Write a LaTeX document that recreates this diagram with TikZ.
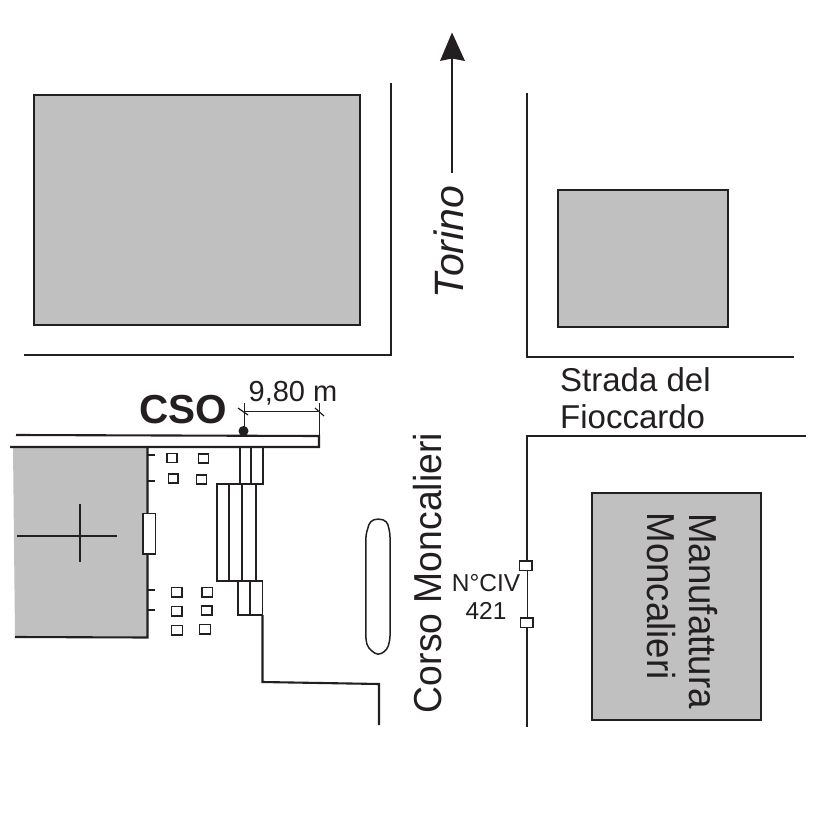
\documentclass[tikz,border=0pt]{standalone}
\usepackage{fontspec}
\setmainfont{Liberation Sans}
\definecolor{bldg}{RGB}{192,192,192}
\definecolor{ink}{RGB}{35,31,32}
\tikzset{
  x=1pt,y=-1pt,
  road/.style={draw=ink,line width=2.1pt,line join=miter},
  thin line/.style={draw=ink,line width=1.6pt},
  hair/.style={draw=ink,line width=.8pt},
  building/.style={draw=ink,fill=bldg,line width=1.8pt},
  kiosk/.style={draw=ink,fill=white,line width=1.6pt},
  label/.style={text=ink,inner sep=0pt,anchor=center},
}
\newcommand{\lbl}[2]{\fontsize{#1}{#2}\selectfont}
\begin{document}
\begin{tikzpicture}
\useasboundingbox (0,0) rectangle (826,826);
\fill[white] (0,0) rectangle (826,826);
% buildings
\path[building] (34,95) rectangle (360,325);
\path[building] (558,190) rectangle (728,327);
\path[building] (592,493) rectangle (761,720);
\fill[bldg] (13,447) -- (148,447) -- (148,637) -- (15,637) -- cycle;
\draw[road] (10,447) -- (147.5,447) -- (147.5,637.5) -- (15,637);
% cross
\draw[thin line] (17,536) -- (117,536);
\draw[thin line] (80,504) -- (80,562);
% streets
\draw[road] (24,355) -- (391,355) -- (391,83);
\draw[road] (527,93) -- (527,357) -- (794,357);
\draw[road] (806,436) -- (527,436) -- (527,563);
\draw[road] (527,628) -- (527,727);
\draw[hair] (527,563) -- (527,628);
% sidewalk
\draw[road] (16,435) -- (319,436) -- (319,447) -- (148,447);
% side door
\path[kiosk] (143,513.5) rectangle (155.5,554);
% ticks
\foreach \y in {455,481,590,610}
  \draw[thin line] (147,\y) -- (155,\y);
% small squares
\foreach \xa/\ya/\xb/\yb in {167/453.5/177/462.5,198.5/454/208.5/463,168.5/474/178/483,196.5/475/206.5/484,171.5/587.5/182/597,202/587.5/212.5/597,171.5/606.5/182/616,201.5/606/212/615,171.5/625.5/182.5/635,199.5/624.5/210.5/634}
  \path[kiosk] (\xa,\ya) rectangle (\xb,\yb);
% steps
\foreach \xa/\ya/\xb/\yb in {240/447/251/484,251/447/263/484,217/484/229/581,229/484/242/581,242/484/256/581,238/581/250/615,250/581/262.5/615}
  \draw[road,line width=1.9pt] (\xa,\ya) rectangle (\xb,\yb);
% kerb
\draw[road] (262.5,615) -- (262.5,682) -- (379,684) -- (379,725);
% traffic island
\draw[road,line width=1.5pt,rounded corners=4pt] (378,518.5) -- (370,521) -- (365.8,535) -- (365.8,640)
  -- (368,648) -- (378,655.5) -- (387,650) -- (390,640) -- (390,533) -- (387,521) -- cycle;
% civic number marks
\path[kiosk] (519.5,561) rectangle (532,570.5);
\path[kiosk] (520.5,618) rectangle (533,627.5);
% dimension
\fill[ink] (243.5,431) circle (5);
\draw[hair] (244.5,428) -- (244.5,403);
\draw[hair] (244.5,411.5) -- (319,411.5);
\draw[hair] (319,436) -- (319,403);
\draw[thin line,line width=1.2pt] (238,408) -- (248,415);
\draw[thin line,line width=1.2pt] (315,408) -- (324,416);
% arrow
\draw[draw=ink,line width=2pt] (452,173) -- (452,58);
\fill[ink] (452,32.5) -- (465,61) -- (452,58.5) -- (440,61) -- cycle;
% labels
\node[label,font=\lbl{40.5}{40}\bfseries] (cso) at (183.5,410) {CSO};
\node[label,font=\lbl{29}{29}] (dist) at (293,393) {9,80 m};
\node[label,font=\lbl{41}{40}\itshape,rotate=90] (tor) at (449,242) {Torino};
\node[label,font=\lbl{33}{33},anchor=west] (s1) at (560,380) {Strada del};
\node[label,font=\lbl{33}{33},anchor=west] (s2) at (560,417) {Fioccardo};
\node[label,font=\lbl{39}{39},rotate=90] (corso) at (427.5,573) {\scalebox{.957}[1]{Corso Moncalieri}};
\node[label,font=\lbl{24.5}{24}] (civ) at (486,583.5) {N°CIV};
\node[label,font=\lbl{24.5}{24}] (civn) at (486,611) {421};
\node[label,font=\lbl{39}{39},rotate=-90] (m1) at (703,611) {\scalebox{.94}[1]{Manufattura}};
\node[label,font=\lbl{39}{39},rotate=-90] (m2) at (661,596) {\scalebox{.94}[1]{Moncalieri}};
\end{tikzpicture}
\end{document}
